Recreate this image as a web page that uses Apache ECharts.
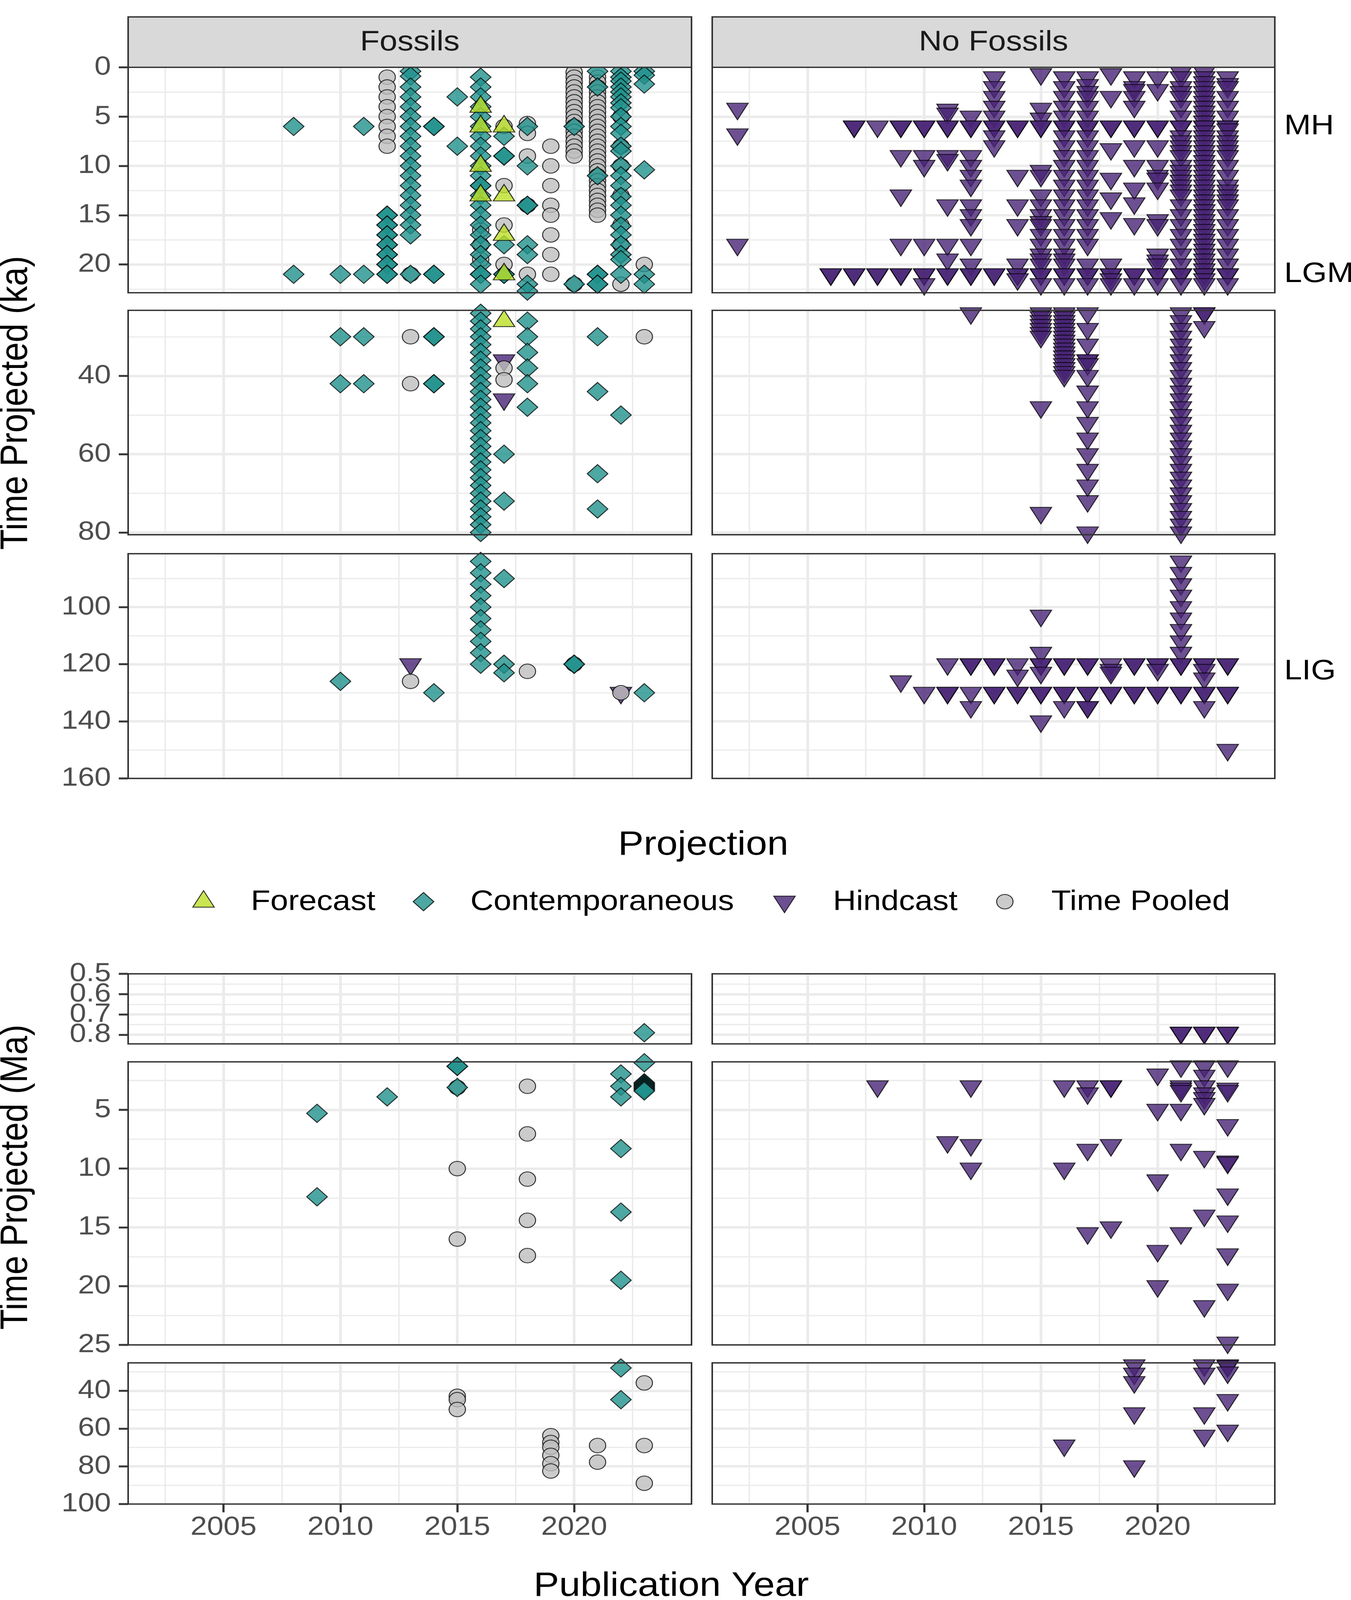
<!DOCTYPE html>
<html>
<head>
<meta charset="utf-8">
<script src="https://cdn.jsdelivr.net/npm/echarts@6/dist/echarts.min.js"></script>
<style>html,body{margin:0;padding:0;background:#fff;overflow:hidden}#chart{width:3458px;height:4635px;transform-origin:0 0}</style>
</head>
<body>
<div id="chart"></div>
<script>
// ---------------- DATA ----------------
const facets = ['Fossils', 'No Fossils'];
const categories = ['Forecast', 'Contemporaneous', 'Hindcast', 'Time Pooled'];
const xTickLabels = [2005, 2010, 2015, 2020];
const xMinorBreaks = [2002.5, 2007.5, 2012.5, 2017.5, 2022.5];
const kaTickLabels = [[0, 5, 10, 15, 20], [40, 60, 80], [100, 120, 140, 160]];
const kaMinorBreaks = [[2.5, 7.5, 12.5, 17.5, 22.5], [30, 50, 70], [90, 110, 130, 150]];
const maTickLabels = [[0.5, 0.6, 0.7, 0.8], [5, 10, 15, 20, 25], [40, 60, 80, 100]];
const maMinorBreaks = [[0.55, 0.65, 0.75], [2.5, 7.5, 12.5, 17.5, 22.5], [30, 50, 70, 90]];
const kaRowRanges = [[0, 22.87], [23.25, 80.58], [81.3, 160]];
const maRowRanges = [[0.5, 0.845], [0.92, 25], [25.2, 100]];
const refPeriods = [['MH', 6], ['LGM', 21], ['LIG', 122.6]];

// Fossils, time projected in ka : [year, [values]]
const fossilKaForecast = [
  [2016, [4, 6, 10, 13]],
  [2017, [6, 13, 17, 21, 26]]
];
const fossilKaContemporaneous = [
  [2008, [6, 21]],
  [2010, [21, 30, 42, 126]],
  [2011, [6, 21, 30, 42]],
  [2012, [15, 15, 16, 16, 17, 17, 18, 18, 19, 19, 20, 20, 21, 21]],
  [2013, [0.4, 0.9, 2, 3, 4, 5, 6, 7, 8, 9, 10, 11, 12, 13, 14, 15, 16, 17, 21]],
  [2014, [6, 6, 21, 21, 30, 30, 42, 42, 130]],
  [2015, [3, 8]],
  [2016, [1, 2, 3, 4, 5, 6, 7, 8, 9, 10, 11, 12, 12, 13, 14, 15, 16, 17, 18, 19, 20, 21, 21, 22,
          24, 26, 28, 30, 32, 34, 36, 38, 40, 42, 44, 46, 48, 50, 52, 54, 56, 58, 60, 62, 64, 66, 68, 70, 72, 74, 76, 78, 80,
          84, 88, 92, 96, 100, 104, 108, 112, 116, 120]],
  [2017, [7, 9, 9, 18, 21, 21, 60, 72, 90, 120, 123]],
  [2018, [6, 10, 14, 14, 18, 19, 22, 22.7, 26, 30, 34, 38, 42, 48]],
  [2020, [6, 22, 120, 120]],
  [2021, [0.4, 2, 11, 21, 21, 22, 22, 30, 44, 65, 74]],
  [2022, [0.4, 1, 1.4, 2, 2.5, 3, 3.6, 4.1, 5, 6, 6.7, 8, 8.5, 10, 11, 12, 13.1, 14, 15, 16.1, 17, 18, 19, 19.5, 21, 50]],
  [2023, [0.4, 0.8, 1.7, 10.4, 21, 22, 130]]
];
const fossilKaHindcast = [
  [2013, [120]],
  [2017, [36, 46]],
  [2022, [130]]
];
const fossilKaTimePooled = [
  [2012, [1, 2, 3, 4, 5, 6, 7, 8]],
  [2013, [21, 30, 42, 126]],
  [2016, [16.5, 18, 19.5]],
  [2017, [6, 12, 16, 20, 38, 41]],
  [2018, [5.7, 6.7, 9, 14, 21, 122.5]],
  [2019, [8, 10, 12, 14, 15, 17, 19, 21]],
  [2020, [0.5, 1, 1.5, 2, 2.5, 3, 3.5, 4, 4.5, 5, 5.5, 6, 6.5, 7, 7.5, 8, 8.5, 9, 22, 120]],
  [2021, [1, 1.5, 2, 2.5, 3, 3.5, 4, 4.5, 5, 5.5, 6, 6.5, 7, 7.5, 8, 8.5, 9, 9.5, 10, 10.5, 11, 11.5, 12, 12.5, 13, 13.5, 14, 14.5, 15]],
  [2022, [5, 8, 10, 13, 16, 18, 22, 130]],
  [2023, [20, 30]]
];

// No Fossils, time projected in ka (all hindcasts)
const noFossilKaHindcast = [
  [2002, [4.2, 6.8, 18]],
  [2006, [21, 21]],
  [2007, [6, 6, 21, 21]],
  [2008, [6, 21, 21]],
  [2009, [6, 6, 9, 13, 18, 21, 21, 126]],
  [2010, [6, 6, 9, 10, 18, 21, 21, 22, 130]],
  [2011, [4.3, 4.7, 6, 6, 9, 9.4, 14, 18, 19.5, 21, 21, 120, 130, 130]],
  [2012, [5, 6, 6, 9, 10, 11, 12, 14, 15, 16, 18, 20, 21, 21, 24, 120, 120, 130, 135]],
  [2013, [1, 2, 3, 4, 5, 6, 6, 7, 8, 21, 21, 120, 120, 130, 130]],
  [2014, [6, 6, 11, 14, 16, 20, 21, 21, 21.5, 120, 124, 130, 130]],
  [2015, [0.7, 4.2, 5.2, 6, 6, 10.5, 11, 13, 14, 15, 15.7, 16, 17, 18, 19, 19.5, 20, 21, 21, 22,
          24, 25, 26, 27, 28, 29, 30, 48, 75, 103, 116, 120, 120, 123, 130, 130, 140]],
  [2016, [1, 2, 3, 4, 5, 6, 6, 7, 8, 9, 10, 11, 12, 13, 14, 15, 16, 17, 18, 19, 19.5, 20, 21, 21, 22,
          24, 25, 26, 27, 28, 29, 30, 31, 32, 33, 34, 35, 36, 37, 38, 39, 40, 120, 120, 130, 130, 135]],
  [2017, [1, 1.8, 2.5, 3, 4, 5, 6, 6, 7, 8, 9, 10, 11, 12, 13, 14, 15, 16, 17, 18, 20, 21, 21, 22,
          24, 28, 32, 36, 36, 37, 40, 44, 48, 52, 56, 60, 64, 68, 72, 80, 120, 120, 130, 130, 135, 135]],
  [2018, [0.7, 3, 6, 6, 8.3, 11.3, 13.3, 15.3, 20, 21, 21, 21.5, 22, 120, 122, 123, 130, 130]],
  [2019, [1, 2, 2.3, 3, 4, 6, 6, 8, 10, 12.3, 13.8, 15.9, 21, 21, 22, 120, 120, 130, 130]],
  [2020, [1, 2.3, 6, 6, 8, 10, 11, 11.3, 12.3, 15.5, 16, 19, 19.6, 20, 21, 21, 22, 120, 120, 122, 130, 130]],
  [2021, [0.5, 1, 2, 2.5, 3, 4, 5, 6, 6, 7, 7.5, 8, 8.5, 9, 10, 10.5, 11, 11.5, 12, 12.5, 13, 14, 15, 16, 17, 18, 19, 20, 21, 21, 22,
          24, 26, 28, 30, 32, 34, 36, 38, 40, 42, 44, 46, 48, 50, 52, 54, 56, 58, 60, 62, 64, 66, 68, 70, 72, 74, 76, 78, 80,
          84, 88, 92, 96, 100, 104, 108, 112, 116, 120, 120, 130, 130]],
  [2022, [0.5, 1, 1.5, 2, 2.5, 3, 3.5, 4, 4.5, 5, 5.5, 6, 6, 6.5, 7, 7.5, 8, 8.5, 9, 9.5, 10, 10.5, 11, 11.5, 12, 12.5,
          13, 13.5, 14, 14.5, 15, 15.5, 16, 16.5, 17, 17.5, 18, 18.5, 19, 19.5, 20, 20.5, 21, 21, 21.5, 22,
          24, 24, 27.5, 120, 120, 122, 125, 130, 130, 135]],
  [2023, [1, 1.7, 2, 3, 4, 5, 6, 6, 6.3, 7, 7.5, 8, 8.5, 9, 10, 11, 12, 12.5, 13, 13.5, 14, 15, 16, 17, 18, 19, 20, 21, 21, 22,
          120, 120, 130, 130, 150]]
];

// Fossils, time projected in Ma
const fossilMaContemporaneous = [
  [2009, [5.3, 12.4]],
  [2012, [3.9]],
  [2015, [1.3, 1.3, 3.1]],
  [2022, [1.95, 3.0, 3.9, 8.3, 13.7, 19.5, 27.9, 44.7]],
  [2023, [0.79, 1.0, 2.7, 2.8, 2.9, 3.0, 3.1, 3.2, 3.3, 3.4]]
];
const fossilMaTimePooled = [
  [2015, [3.1, 10.0, 16.0, 42.9, 44.7, 49.9]],
  [2018, [3.0, 7.05, 10.9, 14.4, 17.4]],
  [2019, [63.8, 67.4, 69.9, 74.2, 78.6, 82.5]],
  [2021, [69.0, 77.8]],
  [2023, [35.8, 69.0, 89.0]]
];
// No Fossils, time projected in Ma
const noFossilMaHindcast = [
  [2008, [3.0]],
  [2011, [7.75]],
  [2012, [3.0, 8.0, 10.0]],
  [2016, [3.0, 10.0, 69.0]],
  [2017, [3.0, 3.6, 8.4, 15.5]],
  [2018, [3.0, 3.0, 8.0, 15.0]],
  [2019, [26.5, 30.9, 35.4, 51.9, 80.0]],
  [2020, [2.0, 5.0, 11.0, 17.0, 20.0]],
  [2021, [0.79, 0.79, 1.3, 3.0, 3.2, 3.4, 5.0, 8.4, 15.5]],
  [2022, [0.79, 0.79, 1.3, 2.1, 3.0, 3.6, 4.0, 4.5, 9.0, 14.0, 21.7, 26.5, 30.9, 51.9, 63.8]],
  [2023, [0.79, 0.79, 1.3, 3.2, 3.4, 6.3, 9.4, 9.5, 12.2, 14.5, 17.3, 20.3, 24.8, 26.5, 27, 30.3, 44.9, 61.1]]
];

// ---------------- STYLE / LAYOUT ----------------
const PAGE_W = 3458, PAGE_H = 4635;
const FONT = "'Liberation Sans', Arial, Helvetica, sans-serif";
const X_MIN = 2000.92, X_MAX = 2025.02;
const COLS = [{ left: 328, width: 1442 }, { left: 1823, width: 1440 }];
const KA_ROWS = [{ top: 195, height: 653 }, { top: 899, height: 650 }, { top: 1604, height: 651 }];
const MA_ROWS = [{ top: 2821, height: 203 }, { top: 3076, height: 820 }, { top: 3948, height: 409 }];
const STRIP = { top: 49, height: 146 };
const GRID_COL = '#EBEBEB', MAJOR_W = 7, MINOR_W = 3.6;
const BORDER = '#333333';
const TRI_W = 55, TRI_H = 48, DIA = 53, CIRC = 42;
const STYLE = {
  'Forecast':        { symbol: 'path://M50,0 L100,86.6 L0,86.6 Z', size: [TRI_W, TRI_H], offset: [0, -TRI_H / 6], fill: 'rgba(187,223,39,0.8)' },
  'Contemporaneous': { symbol: 'diamond', size: [DIA, DIA], offset: [0, 0], fill: 'rgba(33,145,140,0.8)' },
  'Hindcast':        { symbol: 'path://M0,0 L100,0 L50,86.6 Z', size: [TRI_W, TRI_H], offset: [0, TRI_H / 6], fill: 'rgba(72,36,117,0.8)' },
  'Time Pooled':     { symbol: 'circle', size: CIRC, offset: [0, 0], fill: 'rgba(190,190,190,0.8)' }
};
const OUTLINE = 'rgba(0,0,0,0.8)', OUTLINE_W = 2.5;
const DRAW_ORDER = ['Hindcast', 'Time Pooled', 'Contemporaneous', 'Forecast'];

// fit the full 3458x4635 drawing into whatever viewport the browser really has
const el = document.getElementById('chart');
const fitX = Math.min(1, (window.innerWidth || PAGE_W) / PAGE_W);
const fitY = Math.min(1, (window.innerHeight || PAGE_H) / PAGE_H);
if (fitX < 1 || fitY < 1) el.style.transform = 'scale(' + fitX + ',' + fitY + ')';

function expand(cols) {
  const out = [];
  cols.forEach(([yr, vals]) => vals.forEach(v => out.push([yr, v])));
  return out;
}

const kaData = [
  { 'Forecast': expand(fossilKaForecast), 'Contemporaneous': expand(fossilKaContemporaneous),
    'Hindcast': expand(fossilKaHindcast), 'Time Pooled': expand(fossilKaTimePooled) },
  { 'Hindcast': expand(noFossilKaHindcast) }
];
const maData = [
  { 'Contemporaneous': expand(fossilMaContemporaneous), 'Time Pooled': expand(fossilMaTimePooled) },
  { 'Hindcast': expand(noFossilMaHindcast) }
];

const grids = [], xAxes = [], yAxes = [], series = [], graphics = [];
const panelIndex = {};
const fmt = v => String(Math.round(v * 100) / 100);

function yAxisDef(gi, range, values, show, primary) {
  return {
    gridIndex: gi, type: 'value', inverse: true, min: range[0], max: range[1], show: show, position: 'left', offset: 0,
    axisLine: { show: false }, splitLine: { show: false }, minorSplitLine: { show: false },
    axisTick: { show: show && values.length > 0, customValues: values, length: 24, lineStyle: { color: BORDER, width: 5.5 } },
    axisLabel: { show: show && values.length > 0, customValues: values, margin: 44, fontSize: 76, color: '#4D4D4D', fontFamily: FONT,
                 showMinLabel: true, showMaxLabel: true, hideOverlap: false, formatter: fmt }
  };
}

function addPanel(key, rowPos, colPos, range, major, minor, showY, showX, dataByCat) {
  const gi = grids.length;
  panelIndex[key] = gi;
  grids.push({ left: colPos.left, top: rowPos.top, width: colPos.width, height: rowPos.height, show: false });
  const xi = xAxes.length;
  xAxes.push({
    gridIndex: gi, type: 'value', min: X_MIN, max: X_MAX, show: showX,
    axisLine: { show: false }, splitLine: { show: false },
    axisTick: { show: showX, customValues: xTickLabels, length: 24, lineStyle: { color: BORDER, width: 5.5 } },
    axisLabel: { show: showX, customValues: xTickLabels, margin: 30, fontSize: 76, color: '#4D4D4D', fontFamily: FONT,
                 showMinLabel: true, showMaxLabel: true, hideOverlap: false, formatter: fmt }
  });
  // tick labels split over two coincident y axes so close labels are never dropped for overlapping
  const yi = yAxes.length;
  yAxes.push(yAxisDef(gi, range, major.filter((v, k) => k % 2 === 0), showY, true));
  yAxes.push(yAxisDef(gi, range, major.filter((v, k) => k % 2 === 1), showY, false));

  const inside = v => v > range[0] && v < range[1];
  const lines = [];
  xMinorBreaks.forEach(v => lines.push({ xAxis: v, lineStyle: { width: MINOR_W, color: GRID_COL, type: 'solid' } }));
  minor.filter(inside).forEach(v => lines.push({ yAxis: v, lineStyle: { width: MINOR_W, color: GRID_COL, type: 'solid' } }));
  xTickLabels.forEach(v => lines.push({ xAxis: v, lineStyle: { width: MAJOR_W, color: GRID_COL, type: 'solid' } }));
  major.filter(inside).forEach(v => lines.push({ yAxis: v, lineStyle: { width: MAJOR_W, color: GRID_COL, type: 'solid' } }));
  series.push({
    type: 'scatter', name: 'grid-' + key, xAxisIndex: xi, yAxisIndex: yi, data: [], silent: true, z: 1,
    markLine: { silent: true, z: 1, symbol: ['none', 'none'], label: { show: false }, emphasis: { disabled: true },
                animation: false, data: lines }
  });
  DRAW_ORDER.forEach(cat => {
    const pts = (dataByCat[cat] || []).filter(p => p[1] >= range[0] && p[1] <= range[1]);
    if (!pts.length) return;
    const st = STYLE[cat];
    series.push({
      type: 'scatter', name: cat, xAxisIndex: xi, yAxisIndex: yi, data: pts, z: 3,
      symbol: st.symbol, symbolSize: st.size, symbolOffset: st.offset, symbolKeepAspect: false,
      itemStyle: { color: st.fill, borderColor: OUTLINE, borderWidth: OUTLINE_W, opacity: 1 },
      emphasis: { disabled: true }, silent: true, animation: false, progressive: 0, large: false, clip: false
    });
  });
  graphics.push({ type: 'rect', z: 100, silent: true,
    shape: { x: colPos.left, y: rowPos.top, width: colPos.width, height: rowPos.height },
    style: { fill: 'none', stroke: BORDER, lineWidth: 4 } });
}

for (let r = 0; r < 3; r++) {
  for (let c = 0; c < 2; c++) {
    addPanel('ka' + r + c, KA_ROWS[r], COLS[c], kaRowRanges[r], kaTickLabels[r], kaMinorBreaks[r], c === 0, false, kaData[c]);
  }
}
for (let r = 0; r < 3; r++) {
  for (let c = 0; c < 2; c++) {
    addPanel('ma' + r + c, MA_ROWS[r], COLS[c], maRowRanges[r], maTickLabels[r], maMinorBreaks[r], c === 0, r === 2, maData[c]);
  }
}

// strips
facets.forEach((f, c) => {
  graphics.push({ type: 'rect', z: 100, silent: true,
    shape: { x: COLS[c].left, y: STRIP.top, width: COLS[c].width, height: STRIP.height },
    style: { fill: '#D9D9D9', stroke: BORDER, lineWidth: 4 } });
  graphics.push({ type: 'text', z: 101, silent: true,
    x: COLS[c].left + COLS[c].width / 2, y: STRIP.top + STRIP.height / 2 + 1,
    style: { text: f, fontSize: 82, fontFamily: FONT, fill: '#1A1A1A', align: 'center', verticalAlign: 'middle' } });
});

// axis titles
function txt(text, x, y, size, opts) {
  graphics.push(Object.assign({ type: 'text', z: 101, silent: true, x: x, y: y,
    style: { text: text, fontSize: size, fontFamily: FONT, fill: '#000', align: 'center', verticalAlign: 'middle' } }, opts || {}));
}
txt('Time Projected (ka)', 42, 1167, 98, { rotation: Math.PI / 2 });
txt('Time Projected (Ma)', 42, 3410, 98, { rotation: Math.PI / 2 });
txt('Projection', 1800, 2449, 98);
txt('Publication Year', 1718, 4596, 98);

// legend (keys drawn with the same symbol sizes as the points)
const LEG_Y = 2612;
const legendKeys = [
  { cat: 'Forecast', cx: 521, tx: 642 },
  { cat: 'Contemporaneous', cx: 1084, tx: 1204 },
  { cat: 'Hindcast', cx: 2008, tx: 2132 },
  { cat: 'Time Pooled', cx: 2572, tx: 2691 }
];
legendKeys.forEach(k => {
  const st = STYLE[k.cat];
  const style = { fill: st.fill, stroke: OUTLINE, lineWidth: OUTLINE_W };
  if (k.cat === 'Forecast') {
    graphics.push({ type: 'polygon', z: 101, silent: true, style: style, shape: { points: [
      [k.cx, LEG_Y - 2 * TRI_H / 3], [k.cx + TRI_W / 2, LEG_Y + TRI_H / 3], [k.cx - TRI_W / 2, LEG_Y + TRI_H / 3]] } });
  } else if (k.cat === 'Hindcast') {
    graphics.push({ type: 'polygon', z: 101, silent: true, style: style, shape: { points: [
      [k.cx - TRI_W / 2, LEG_Y - TRI_H / 3], [k.cx + TRI_W / 2, LEG_Y - TRI_H / 3], [k.cx, LEG_Y + 2 * TRI_H / 3]] } });
  } else if (k.cat === 'Contemporaneous') {
    graphics.push({ type: 'polygon', z: 101, silent: true, style: style, shape: { points: [
      [k.cx, LEG_Y - DIA / 2], [k.cx + DIA / 2, LEG_Y], [k.cx, LEG_Y + DIA / 2], [k.cx - DIA / 2, LEG_Y]] } });
  } else {
    graphics.push({ type: 'circle', z: 101, silent: true, style: style, shape: { cx: k.cx, cy: LEG_Y, r: CIRC / 2 } });
  }
  graphics.push({ type: 'text', z: 101, silent: true, x: k.tx, y: LEG_Y + 1,
    style: { text: k.cat, fontSize: 82, fontFamily: FONT, fill: '#000', align: 'left', verticalAlign: 'middle' } });
});

const chart = echarts.init(el, null, { renderer: 'canvas', width: PAGE_W, height: PAGE_H });
const option = {
  animation: false,
  backgroundColor: '#ffffff',
  textStyle: { fontFamily: FONT },
  grid: grids, xAxis: xAxes, yAxis: yAxes, series: series, graphic: graphics
};
chart.setOption(option);

// reference period labels on the right, positioned through the axis scales
const refGraphics = refPeriods.map(([label, v]) => {
  const row = kaRowRanges.findIndex(rg => v >= rg[0] && v <= rg[1]);
  const gi = panelIndex['ka' + row + '1'];
  const px = chart.convertToPixel({ gridIndex: gi }, [X_MAX, v]);
  return { type: 'text', z: 101, silent: true, x: px[0] + 24, y: px[1],
    style: { text: label, fontSize: 82, fontFamily: FONT, fill: '#000', align: 'left', verticalAlign: 'middle' } };
});
chart.setOption({ graphic: graphics.concat(refGraphics) }, { replaceMerge: ['graphic'] });
</script>
</body>
</html>
